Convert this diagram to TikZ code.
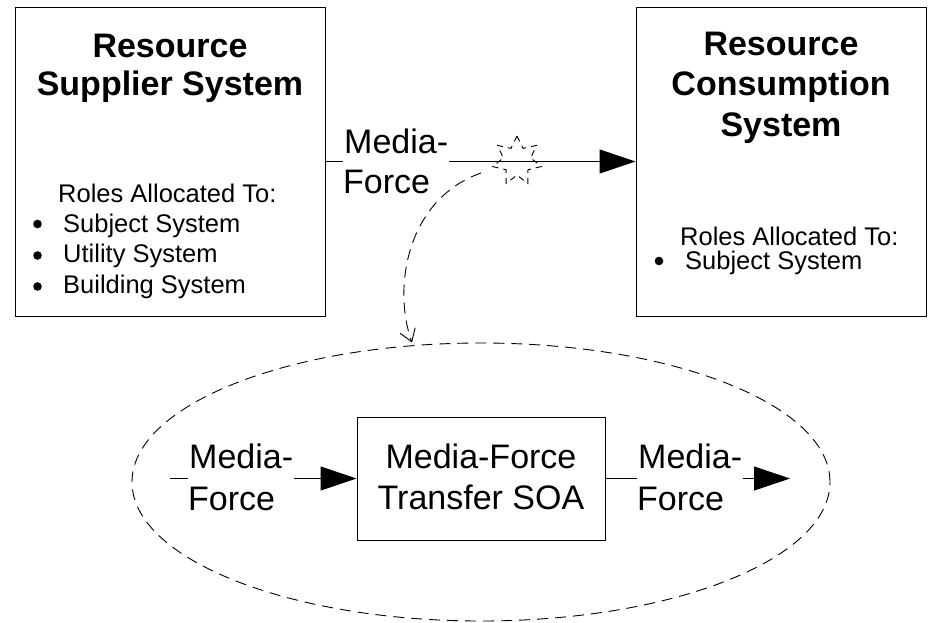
\documentclass[tikz,border=0pt]{standalone}
\usepackage{fontspec}
\setmainfont{Liberation Sans}
\usetikzlibrary{arrows.meta,shapes.geometric}
\tikzset{
  sysbox/.style={draw=black, line width=1pt, inner sep=0pt},
  titletext/.style={inner sep=0pt, anchor=base, font=\fontsize{34}{40}\selectfont\bfseries},
  roletext/.style={inner sep=0pt, anchor=base west, font=\fontsize{25.5}{30}\selectfont},
  mftext/.style={inner sep=0pt, anchor=base west, font=\fontsize{34}{40}\selectfont},
  mfcover/.style={mftext, fill=white, inner xsep=1pt, text depth=14pt},
  boxtext/.style={inner sep=0pt, anchor=base, font=\fontsize{34}{40}\selectfont},
  bulletdot/.style={circle, fill=black, inner sep=0pt, minimum size=8.6pt},
  flow/.style={line width=1pt, -{Triangle[length=36pt,width=24pt]}},
  dashline/.style={line width=0.9pt, dash pattern=on 11pt off 7pt},
  burstline/.style={line width=0.9pt, dash pattern=on 6pt off 5pt, line join=miter},
}
\begin{document}
\begin{tikzpicture}[x=1pt,y=-1pt]
\useasboundingbox (0,0) rectangle (928,622);
% top boxes
\node[sysbox, minimum width=310pt, minimum height=309pt] (lbox) at (170,161.5) {};
\node[sysbox, minimum width=290pt, minimum height=309pt] (rbox) at (781,161.5) {};
% top flow
\draw[flow] (lbox.east) -- (rbox.west);
\node[mfcover] (mf1a) at (343,153) {Media-};
\node[mftext] (mf1b) at (343,193) {Force};
% left box text
\node[titletext] (lt1) at (170,57) {Resource};
\node[titletext] (lt2) at (170,95) {Supplier System};
\node[roletext] (lr0) at (58,202) {Roles Allocated To:};
\node[bulletdot] (lb1) at (37.5,224) {};
\node[roletext] (lr1) at (63,232) {Subject System};
\node[bulletdot] (lb2) at (37.5,255.5) {};
\node[roletext] (lr2) at (63,262) {Utility System};
\node[bulletdot] (lb3) at (37.5,286.5) {};
\node[roletext] (lr3) at (63,293) {Building System};
% right box text
\node[titletext] (rt1) at (781,55) {Resource};
\node[titletext] (rt2) at (781,95.5) {Consumption};
\node[titletext] (rt3) at (781,136) {System};
\node[roletext] (rr0) at (680,245) {Roles Allocated To:};
\node[bulletdot] (rb1) at (659,261) {};
\node[roletext] (rr1) at (685,269) {Subject System};
% starburst (7 points)
\coordinate (burst) at (517,161);
\draw[burstline]
  ([shift={(-90:25)}]burst) -- ([shift={(-64.29:14)}]burst) --
  ([shift={(-38.57:25)}]burst) -- ([shift={(-12.86:14)}]burst) --
  ([shift={(12.86:25)}]burst) -- ([shift={(38.57:14)}]burst) --
  ([shift={(64.29:25)}]burst) -- ([shift={(90:14)}]burst) --
  ([shift={(115.71:25)}]burst) -- ([shift={(141.43:14)}]burst) --
  ([shift={(167.14:25)}]burst) -- ([shift={(192.86:14)}]burst) --
  ([shift={(218.57:25)}]burst) -- ([shift={(244.29:14)}]burst) -- cycle;
% ellipse
\node[ellipse, draw=black, dashline, minimum width=698pt, minimum height=278pt, inner sep=0pt] (zoomell) at (481,482) {};
% dashed curved arrow
\coordinate (cstart) at (481,173);
\draw[dashline, -{Straight Barb[length=12pt,width=16pt,line width=0.9pt]}]
  (cstart) .. controls (405,200) and (393,290) .. (zoomell.north -| 412,0);
% bottom SOA box
\node[sysbox, minimum width=248pt, minimum height=123pt] (soa) at (481,478.5) {};
\node[boxtext] (soat1) at (481,468) {Media-Force};
\node[boxtext] (soat2) at (481,509) {Transfer SOA};
\coordinate (inend) at (170,478.5);
\coordinate (outend) at (790,478.5);
\draw[flow] (inend) -- (soa.west);
\draw[flow] (soa.east) -- (outend);
\node[mfcover] (mf2a) at (188,468) {Media-};
\node[mftext] (mf2b) at (188,510) {Force};
\node[mfcover] (mf3a) at (637,468) {Media-};
\node[mftext] (mf3b) at (637,510) {Force};
\end{tikzpicture}
\end{document}
